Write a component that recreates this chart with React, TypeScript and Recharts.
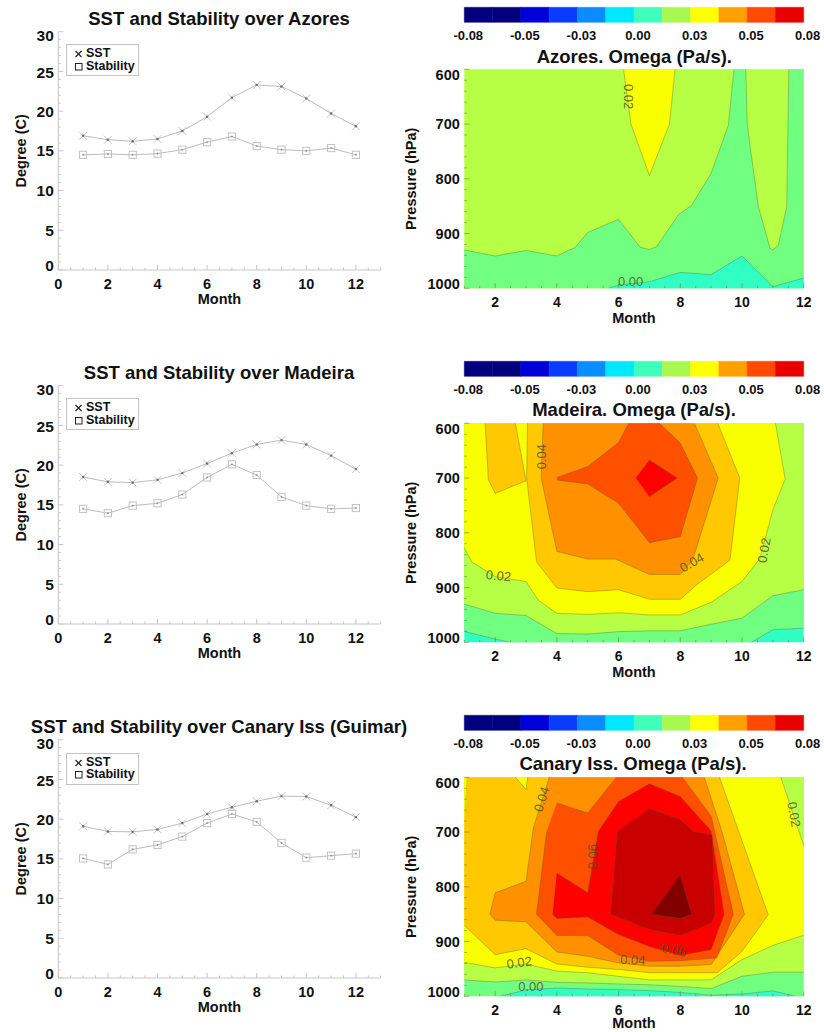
import {
  Bar,
  BarChart,
  Legend,
  Line,
  LineChart,
  ReferenceDot,
  Scatter,
  ScatterChart,
  XAxis,
  YAxis,
} from 'recharts';

const FONT = '"Liberation Sans", Arial, sans-serif';
const FRAME = '#c6c6c6';

const months = [1, 2, 3, 4, 5, 6, 7, 8, 9, 10, 11, 12];

const azoresSst = [16.9, 16.4, 16.2, 16.5, 17.5, 19.3, 21.7, 23.3, 23.1, 21.6, 19.7, 18.1];
const azoresStability = [14.5, 14.6, 14.5, 14.65, 15.15, 16.1, 16.8, 15.6, 15.15, 15.0, 15.35, 14.5];
const madeiraSst = [18.5, 17.9, 17.8, 18.15, 19.0, 20.2, 21.5, 22.6, 23.15, 22.6, 21.2, 19.5];
const madeiraStability = [14.5, 13.95, 14.9, 15.2, 16.3, 18.45, 20.1, 18.75, 16.0, 14.9, 14.5, 14.6];
const canarySst = [19.1, 18.45, 18.4, 18.7, 19.5, 20.65, 21.5, 22.25, 22.9, 22.85, 21.75, 20.25];
const canaryStability = [15.05, 14.3, 16.2, 16.75, 17.8, 19.5, 20.65, 19.65, 17.0, 15.15, 15.4, 15.65];

// x ticks are every half month, y ticks every degree / every 20 hPa
const lineXTicks = months.flatMap((m) => [m - 1, m - 0.5]).concat([12, 12.5, 13]);
const lineYTicks = Array.from({ length: 31 }, (_, i) => i);
const contourXTicks = months.slice(0, 11).flatMap((m) => [m, m + 0.5]).concat([12]);
const contourYTicks = Array.from({ length: 21 }, (_, i) => 600 + i * 20);

const colorbarColors = [
  '#00007f', '#00007f', '#0000d8', '#0a3cff', '#0a8cff', '#00e8ff',
  '#40ffb8', '#a8f850', '#ffff00', '#ffa000', '#ff4a00', '#e80000',
];
const colorbarLabels = ['-0.08', '-0.05', '-0.03', '0.00', '0.03', '0.05', '0.08'];
const colorbarTicks = [0, 2, 4, 6, 8, 10, 12];

// contour fill colours, low to high
const TEAL = '#30ffc4';
const GREEN = '#70ff80';
const LIME = '#b6ff44';
const YELLOW = '#faff00';
const AMBER = '#ffc800';
const ORANGE = '#ff9000';
const REDORANGE = '#ff5000';
const RED = '#ff0000';
const DARKRED = '#c80000';
const MAROON = '#800000';

type Pt = [number, number];

const fullField: Pt[] = [[1, 600], [12, 600], [12, 1000], [1, 1000]];

// Azores contours, [month, hPa]
const azoresYellow: Pt[] = [[6.15, 600], [6.4, 700], [7, 794], [7.65, 700], [7.84, 600]];
const azoresGreen: Pt[] = [
  [1, 929], [2, 941], [3, 931], [4, 941], [4.6, 925], [5, 898], [6, 874], [6.7, 925], [7, 929],
  [7.23, 924], [7.94, 866], [8.37, 848], [9, 790], [9.56, 702], [9.75, 600], [10.12, 600],
  [10.17, 702], [10.53, 851], [10.91, 927], [11, 930], [11.18, 921], [11.45, 851], [11.52, 600],
  [12, 600], [12, 1000], [1, 1000],
];
const azoresTeal: Pt[] = [
  [5.4, 1000], [6, 994], [7, 988], [8, 971], [9, 975], [10, 941], [11, 997], [12, 980], [12, 1000],
];

// Madeira contours
const madeiraGreen: Pt[] = [
  [1, 600], [12, 600], [12, 974], [11, 977], [10.15, 1000], [2.9, 1000], [2, 994], [1, 979],
];
const madeiraLime: Pt[] = [
  [1, 600], [12, 600], [12, 903], [11, 915], [10, 956], [9, 967], [8, 979], [7, 979], [6, 980.5],
  [5, 985], [4, 984], [3, 951], [2, 947], [1, 929],
];
const madeiraYellow: Pt[] = [
  [1, 600], [11.07, 600], [11.4, 702], [11, 758], [10.58, 847], [10, 889], [9, 927], [8, 950],
  [7, 950], [6, 946], [5, 949], [4, 947], [3.4, 923], [3, 889], [2, 880], [1.24, 853], [1, 819],
];
const madeiraAmberTongue: Pt[] = [[1.67, 600], [1.78, 703], [2, 728], [3, 705], [2.64, 600]];
const madeiraAmber: Pt[] = [
  [3.05, 600], [3.02, 700], [3.34, 853], [4, 901], [5, 907.5], [6, 904], [7, 921.5], [8, 921.5],
  [8.53, 895], [9.61, 850], [9.93, 700], [9.18, 600],
];
const madeiraOrange: Pt[] = [
  [3.56, 600], [3.49, 700], [4, 834], [5, 848], [5.9, 848], [7, 876], [8, 876], [8.4, 850],
  [9.23, 700], [8.42, 600],
];
const madeiraRedOrange: Pt[] = [
  [4, 699], [5, 679], [6, 635], [6.37, 600], [7.23, 600], [8, 636], [8.56, 700], [8, 807], [7, 818],
  [6, 746], [5, 711], [4, 703.5],
];
const madeiraRed: Pt[] = [[6.56, 700], [7, 667], [7.9, 700], [7, 734]];

// Canary contours
const canaryLime: Pt[] = [
  [1, 600], [12, 600], [12, 956], [11, 956], [10, 963.5], [9, 986], [8, 982], [7, 979], [6, 977.5],
  [5, 975.6], [4, 974.4], [3, 970], [2, 974], [1, 970],
];
const canaryTeal: Pt[] = [
  [1.83, 1000], [3, 988], [4, 985], [5, 986.6], [6, 988], [7, 989.6], [8, 993], [9, 998], [10, 996],
  [11, 990], [12, 1000],
];
const canaryYellow: Pt[] = [
  [1, 600], [11.23, 600], [12, 738], [12, 887], [11, 907], [10, 933], [9, 970], [8, 970], [7, 970],
  [6, 963.5], [5, 957], [4, 954], [3, 941], [2, 948], [1, 937],
];
const canaryAmber: Pt[] = [
  [1.08, 600], [2.59, 600], [3, 622.5], [3.07, 600], [9.24, 600], [10.85, 851], [10, 918], [9.2, 957],
  [8, 957], [7, 957], [6, 951], [5, 947], [4, 941], [3, 913], [2, 924], [1, 866], [1, 740],
];
const canaryOrange: Pt[] = [
  [3.78, 600], [3.24, 692], [3, 790], [2, 811], [1.83, 850], [2, 861], [3, 864], [4, 919], [5, 927],
  [6, 939], [7, 945], [8, 945], [9, 942], [10.08, 850], [9.34, 697], [8.75, 600],
];
const canaryRedOrange: Pt[] = [
  [4, 647], [5, 665], [6, 600], [8, 600], [9, 671], [9.72, 850], [9.18, 930], [8, 935], [7, 936],
  [6, 925], [5, 889], [4, 889], [3.34, 850], [3.67, 699],
];
const canaryRed: Pt[] = [
  [4, 775], [5, 811], [5.34, 699], [6, 644], [7, 612], [8, 635], [9, 698], [9.42, 850], [9, 915],
  [8, 925], [7, 909], [6, 887], [5, 855], [4, 858], [3.86, 850],
];
const canaryDarkRed: Pt[] = [
  [7, 657], [8, 677], [8.43, 699], [9.03, 705], [9.13, 850], [9.02, 866], [8, 889], [7, 878],
  [5.74, 850], [5.96, 699],
];
const canaryMaroon: Pt[] = [[8, 779], [8.37, 850], [8, 858], [7.07, 850]];

const azoresBands: [string, Pt[]][] = [
  [LIME, fullField], [YELLOW, azoresYellow], [GREEN, azoresGreen], [TEAL, azoresTeal],
];
const madeiraBands: [string, Pt[]][] = [
  [TEAL, fullField], [GREEN, madeiraGreen], [LIME, madeiraLime], [YELLOW, madeiraYellow],
  [AMBER, madeiraAmberTongue], [AMBER, madeiraAmber], [ORANGE, madeiraOrange],
  [REDORANGE, madeiraRedOrange], [RED, madeiraRed],
];
const canaryBands: [string, Pt[]][] = [
  [GREEN, fullField], [TEAL, canaryTeal], [LIME, canaryLime], [YELLOW, canaryYellow],
  [AMBER, canaryAmber], [ORANGE, canaryOrange], [REDORANGE, canaryRedOrange], [RED, canaryRed],
  [DARKRED, canaryDarkRed], [MAROON, canaryMaroon],
];

// contour labels: text, month, hPa, rotation
type ContourLabel = [string, number, number, number];
const azoresLabels: ContourLabel[] = [['0.02', 6.32, 650, 90], ['0.00', 6.39, 988, 0]];
const madeiraLabels: ContourLabel[] = [
  ['0.04', 3.49, 661, -90], ['0.02', 2.11, 878, 5], ['0.04', 8.37, 854, -30], ['0.02', 10.71, 832, -80],
];
const canaryLabels: ContourLabel[] = [
  ['0.04', 3.5, 640, -72], ['0.06', 5.15, 745, -90], ['0.02', 11.69, 668, 80], ['0.02', 2.78, 938, -8],
  ['0.00', 3.16, 982, 0], ['0.04', 6.46, 933, 3], ['0.06', 7.8, 915, 12],
];

// polygons touching the field's edge go a little past it and get clipped, so their outline doesn't run along the frame
const pastEdge = ([m, p]: Pt) => ({
  m: m === 1 ? 0.92 : m === 12 ? 12.08 : m,
  p: p === 600 ? 595 : p === 1000 ? 1005 : p,
});

function CrossMark({ cx, cy, color = '#c4c4c4', size = 4 }: any) {
  return (
    <g>
      <path
        d={`M${cx - size},${cy - size}L${cx + size},${cy + size}M${cx - size},${cy + size}L${cx + size},${cy - size}`}
        stroke={color}
        strokeWidth={1}
        fill="none"
      />
      <circle cx={cx} cy={cy} r={1.2} fill="#6c6c6c" />
    </g>
  );
}

function SquareMark({ cx, cy, color = '#c2c2c2', size = 3.6 }: any) {
  return (
    <g>
      <rect x={cx - size} y={cy - size} width={size * 2} height={size * 2} fill="none" stroke={color} strokeWidth={1} />
      <path d={`M${cx - 1},${cy}L${cx + 1},${cy}M${cx},${cy - 1}L${cx},${cy + 1}`} stroke="#8c8c8c" strokeWidth={0.8} />
    </g>
  );
}

// one tick with its label; ends moves the first and last label in from the axis ends
function makeTick(opts: {
  side: 'left' | 'right' | 'top' | 'bottom';
  color: string;
  major: number;
  fontSize?: number;
  labelled?: boolean;
  ends?: Record<number, number>;
}) {
  const { side, color, major, fontSize = 15, labelled, ends = {} } = opts;
  return (props: any) => {
    const { x, y, payload } = props;
    const v = payload.value;
    const isMajor = Math.abs(v / major - Math.round(v / major)) < 1e-6;
    const len = isMajor ? 5 : 2.5;
    const line =
      side === 'left' ? [x, y, x + len, y]
      : side === 'right' ? [x, y, x - len, y]
      : side === 'top' ? [x, y, x, y + len]
      : [x, y, x, y - len];
    return (
      <g>
        <line x1={line[0]} y1={line[1]} x2={line[2]} y2={line[3]} stroke={color} strokeWidth={1} />
        {labelled && isMajor && side === 'left' && (
          <text x={x - 4.5} y={y + (ends[v] ?? 0)} dy="0.36em" textAnchor="end" fontFamily={FONT} fontWeight="bold" fontSize={fontSize} fill="#111">
            {v}
          </text>
        )}
        {labelled && isMajor && side === 'bottom' && (
          <text x={x} y={y + 14} dy="0.36em" textAnchor="middle" fontFamily={FONT} fontWeight="bold" fontSize={fontSize} fill="#111">
            {v}
          </text>
        )}
      </g>
    );
  };
}

function Title({ text, x, y, width }: { text: string; x: number; y: number; width: number }) {
  return (
    <div
      style={{
        position: 'absolute',
        left: x - width / 2,
        top: y - 11,
        width,
        height: 22,
        lineHeight: '22px',
        textAlign: 'center',
        fontFamily: FONT,
        fontWeight: 'bold',
        fontSize: 18.5,
        color: '#111',
        whiteSpace: 'nowrap',
      }}
    >
      {text}
    </div>
  );
}

function LegendBox({ payload }: any) {
  return (
    <div
      style={{
        width: 73,
        height: 32,
        boxSizing: 'border-box',
        border: '1px solid #c4c4c4',
        background: '#fff',
        position: 'relative',
        fontFamily: FONT,
        fontWeight: 'bold',
        fontSize: 12.5,
        color: '#111',
      }}
    >
      {(payload ?? []).map((entry: any, i: number) => (
        <div key={entry.value} style={{ position: 'absolute', left: 0, top: 2 + i * 12.7, height: 13, lineHeight: '13px', whiteSpace: 'nowrap' }}>
          <svg width={18} height={13} style={{ position: 'absolute', left: 6, top: 0 }}>
            {i === 0 ? (
              <path d="M2.5,4L8.5,10M2.5,10L8.5,4" stroke="#222" strokeWidth={1.2} fill="none" />
            ) : (
              <rect x={2.5} y={3.5} width={6.5} height={6.5} fill="none" stroke="#222" strokeWidth={1} />
            )}
          </svg>
          <span style={{ position: 'absolute', left: 19 }}>{entry.value}</span>
        </div>
      ))}
    </div>
  );
}

const labelStyle = { fontFamily: FONT, fontWeight: 'bold', fontSize: 14.5, fill: '#111' };

function SeriesPanel({ top, sst, stability }: { top: number; sst: number[]; stability: number[] }) {
  const table = months.map((m, i) => ({ month: m, sst: sst[i], stability: stability[i] }));
  return (
    <div style={{ position: 'absolute', left: 0, top }}>
      <LineChart width={400} height={320} data={table} margin={{ top: 31.7, left: 0, right: 19.3, bottom: 0 }}>
        <XAxis
          dataKey="month"
          type="number"
          domain={[0, 13]}
          ticks={lineXTicks}
          interval={0}
          height={50}
          stroke={FRAME}
          tickSize={0}
          tickMargin={0}
          tickLine={false}
          tick={makeTick({ side: 'bottom', color: FRAME, major: 2, fontSize: 14.5, labelled: true })}
          label={{ value: 'Month', position: 'insideBottom', offset: 16, style: labelStyle }}
        />
        <XAxis xAxisId="top" orientation="top" type="number" domain={[0, 13]} ticks={lineXTicks} interval={0} height={0} stroke={FRAME} tickSize={0} tickMargin={0} tickLine={false} tick={makeTick({ side: 'top', color: FRAME, major: 2 })} />
        <YAxis
          type="number"
          domain={[0, 30]}
          ticks={lineYTicks}
          interval={0}
          width={58.3}
          stroke={FRAME}
          tickSize={0}
          tickMargin={0}
          tickLine={false}
          tick={makeTick({ side: 'left', color: FRAME, major: 5, fontSize: 15.5, labelled: true, ends: { 30: 4, 25: 1, 0: -5 } })}
          label={{ value: 'Degree (C)', angle: -90, position: 'insideLeft', offset: 21, style: { ...labelStyle, textAnchor: 'middle' } }}
        />
        <YAxis yAxisId="right" orientation="right" type="number" domain={[0, 30]} ticks={lineYTicks} interval={0} width={0} stroke={FRAME} tickSize={0} tickMargin={0} tickLine={false} tick={makeTick({ side: 'right', color: FRAME, major: 5 })} />
        <Legend
          layout="vertical"
          align="center"
          verticalAlign="middle"
          wrapperStyle={{ left: 66, top: 44.3, width: 73, height: 32 }}
          content={(p: any) => <LegendBox payload={p.payload} />}
        />
        <Line
          dataKey="sst"
          name="SST"
          type="linear"
          stroke="#bcbcbc"
          strokeWidth={1}
          isAnimationActive={false}
          dot={(p: any) => <CrossMark key={p.index} cx={p.cx} cy={p.cy} />}
        />
        <Line
          dataKey="stability"
          name="Stability"
          type="linear"
          stroke="#bcbcbc"
          strokeWidth={1}
          isAnimationActive={false}
          dot={(p: any) => <SquareMark key={p.index} cx={p.cx} cy={p.cy} />}
        />
      </LineChart>
    </div>
  );
}

const colorbarRow = [
  Object.fromEntries(colorbarColors.map((_, i) => [`band${i}`, 1])),
];

function ColorbarTick({ x, y, payload }: any) {
  return (
    <text x={x + 4} y={y + 12.3} dy="0.36em" textAnchor="middle" fontFamily={FONT} fontWeight="bold" fontSize={13} fill="#111">
      {colorbarLabels[payload.value / 2]}
    </text>
  );
}

function Colorbar({ top }: { top: number }) {
  return (
    <div style={{ position: 'absolute', left: 400, top }}>
      <BarChart
        width={424}
        height={50}
        data={colorbarRow}
        layout="vertical"
        barCategoryGap={0}
        margin={{ top: 7.3, left: 0, right: 20.3, bottom: 0 }}
      >
        <XAxis type="number" domain={[0, 12]} ticks={colorbarTicks} interval={0} height={27.3} axisLine={false} tickLine={false} tickSize={0} tickMargin={0} tick={<ColorbarTick />} />
        <YAxis type="category" width={64.3} tick={false} axisLine={false} tickLine={false} />
        {colorbarColors.map((c, i) => (
          <Bar key={i} dataKey={`band${i}`} stackId="bar" fill={c} stroke={c} strokeWidth={0.5} isAnimationActive={false} />
        ))}
      </BarChart>
    </div>
  );
}

function ContourPanel({ top, bands, labels, monthOffset = 7.5 }: { top: number; bands: [string, Pt[]][]; labels: ContourLabel[]; monthOffset?: number }) {
  const tickColor = 'rgba(110,120,60,0.6)';
  return (
    <div style={{ position: 'absolute', left: 400, top }}>
      <ScatterChart width={424} height={330} margin={{ top: 69.3, left: 0, right: 20.3, bottom: 0 }}>
        <XAxis
          dataKey="m"
          type="number"
          domain={[1, 12]}
          allowDataOverflow
          ticks={contourXTicks}
          interval={0}
          height={41.7}
          axisLine={false}
          tickSize={0}
          tickMargin={0}
          tickLine={false}
          tick={makeTick({ side: 'bottom', color: tickColor, major: 2, fontSize: 14, labelled: true })}
          label={{ value: 'Month', position: 'insideBottom', offset: monthOffset, style: labelStyle }}
        />
        <XAxis xAxisId="top" orientation="top" type="number" domain={[1, 12]} ticks={contourXTicks} interval={0} height={0} axisLine={false} tickSize={0} tickMargin={0} tickLine={false} tick={makeTick({ side: 'top', color: tickColor, major: 2 })} />
        <YAxis
          dataKey="p"
          type="number"
          reversed
          domain={[600, 1000]}
          allowDataOverflow
          ticks={contourYTicks}
          interval={0}
          width={64.3}
          axisLine={false}
          tickSize={0}
          tickMargin={0}
          tickLine={false}
          tick={makeTick({ side: 'left', color: tickColor, major: 100, fontSize: 14.5, labelled: true, ends: { 600: 5, 1000: -5 } })}
          label={{ value: 'Pressure (hPa)', angle: -90, position: 'insideLeft', offset: 11, style: { ...labelStyle, textAnchor: 'middle' } }}
        />
        <YAxis yAxisId="right" orientation="right" type="number" reversed domain={[600, 1000]} ticks={contourYTicks} interval={0} width={0} axisLine={false} tickSize={0} tickMargin={0} tickLine={false} tick={makeTick({ side: 'right', color: tickColor, major: 100 })} />
        {bands.map(([color, poly], i) => (
          <Scatter
            key={i}
            data={poly.map(pastEdge)}
            isAnimationActive={false}
            shape={() => null}
            line={{ fill: color, stroke: i === 0 ? 'none' : 'rgba(90,90,50,0.45)', strokeWidth: 0.8 }}
          />
        ))}
        {labels.map(([text, m, p, angle], i) => (
          <ReferenceDot
            key={i}
            x={m}
            y={p}
            r={0}
            shape={(s: any) => (
              <text
                x={s.cx}
                y={s.cy}
                dy="0.36em"
                textAnchor="middle"
                fontFamily={FONT}
                fontSize={13}
                fill="rgba(80,80,40,0.85)"
                transform={`rotate(${angle} ${s.cx} ${s.cy})`}
              >
                {text}
              </text>
            )}
          />
        ))}
      </ScatterChart>
    </div>
  );
}

export default function App() {
  return (
    <div style={{ position: 'absolute', left: 0, top: 0, width: 824, height: 1032, background: '#fff', overflow: 'hidden' }}>
      <SeriesPanel top={0} sst={azoresSst} stability={azoresStability} />
      <SeriesPanel top={354} sst={madeiraSst} stability={madeiraStability} />
      <SeriesPanel top={708.3} sst={canarySst} stability={canaryStability} />

      <Colorbar top={0} />
      <Colorbar top={353.7} />
      <Colorbar top={707.7} />

      <ContourPanel top={0} bands={azoresBands} labels={azoresLabels} />
      <ContourPanel top={354} bands={madeiraBands} labels={madeiraLabels} />
      <ContourPanel top={708.4} bands={canaryBands} labels={canaryLabels} monthOffset={10} />

      <Title text="SST and Stability over Azores" x={219} y={19} width={400} />
      <Title text="SST and Stability over Madeira" x={219} y={373.3} width={400} />
      <Title text="SST and Stability over Canary Iss (Guimar)" x={219} y={726.7} width={420} />
      <Title text="Azores. Omega (Pa/s)." x={634.3} y={56.7} width={400} />
      <Title text="Madeira. Omega (Pa/s)." x={634} y={410} width={400} />
      <Title text="Canary Iss. Omega (Pa/s)." x={633} y={764.3} width={400} />
    </div>
  );
}
